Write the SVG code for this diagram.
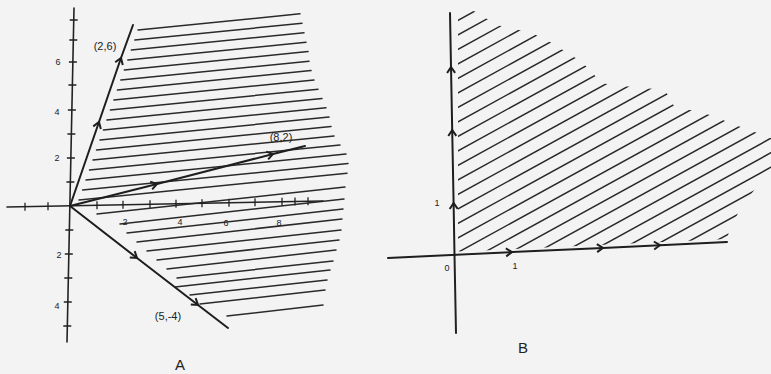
<svg xmlns="http://www.w3.org/2000/svg" width="771" height="374" viewBox="0 0 771 374">
<style>
.ax{fill:none;stroke:#222;stroke-width:1.6;stroke-linecap:round}
.ray{fill:none;stroke:#1e1e1e;stroke-width:2;stroke-linecap:round;marker-mid:url(#ah)}
.tk{fill:none;stroke:#222;stroke-width:1.3}
.hat{fill:none;stroke:#2a2a2a;stroke-width:1.5;stroke-linecap:round}
.t{font-family:"Liberation Sans",Arial,sans-serif;fill:#222}
.sm{font-size:9px}
.lb{font-size:11px}
.big{font-size:15px}
</style>
<defs>
<marker id="ah" viewBox="-8 -6 10 12" markerWidth="10" markerHeight="12" refX="0" refY="0" orient="auto" markerUnits="userSpaceOnUse">
<path d="M-6,-4 L0,0 L-6,4" fill="none" stroke="#1e1e1e" stroke-width="2"/>
</marker>
<clipPath id="clipB">
<polygon points="458,5 476,12 497,25 532,33 550,42 582,62 602,83 612,85 665,90 674,106 710,115 738,126 771,138 771,168 742,206 730,228 727,239 460,251.5 458,251"/>
</clipPath>
</defs>
<rect width="771" height="374" fill="#f3f3f3"/>

<g id="panelA">
<g id="hatchA" class="hat">
<path d="M138 30L300 13.8M134.8 40L302 23.3M131.3 50L304 32.7M127.8 60L306 42.2M124.3 70L308 51.6M120.8 80L309 61.2M117.4 90L311 70.6M113.9 100L314 80M110.4 110L318 89.2M106.9 120L322 98.5M103.4 130L326 107.7M100 140L329 117.1M96.5 150L331 126.5M93 160L334 135.9M89.5 170L340 145M86 180L346 154M82.6 190L348 163.5M79 200L347 173.2"/>
<path d="M97 214L345 187M120 224L344 199M127 233L343 209M137 242L342 219M147 251L341 230M157 260L339 240M167 269L336 250M177 278L333 261M175 287L330 270M190 295L327 280M200 304L325 290M227 316L323 305"/>
</g>
<g id="axesA">
<path class="ax" d="M74 8L67 342"/>
<path class="ax" d="M7 207L323 201"/>
<path class="tk" d="M69.7 20h8M69.3 40h8M68.9 62h8M68.4 85h8M67.9 110h8M67.4 134h8M66.9 158h8M66.4 182h8M65.3 230h8M64.8 254h8M64.3 278h8M63.8 302h8M63.3 326h8"/>
<path class="tk" d="M25 202.7v8M48 202.2v8M97 201.3v8M123 200.8v8M150 200.3v8M176 199.8v8M202 199.3v8M229 198.8v8M255 198.3v8M282 197.8v8M295 197.5v8M308 197.3v8"/>
<text class="t sm" x="58" y="65" text-anchor="middle">6</text>
<text class="t sm" x="57" y="115" text-anchor="middle">4</text>
<text class="t sm" x="57" y="161" text-anchor="middle">2</text>
<text class="t sm" x="59" y="258" text-anchor="middle">2</text>
<text class="t sm" x="57" y="309" text-anchor="middle">4</text>
<text class="t sm" x="125" y="225" text-anchor="middle">2</text>
<text class="t sm" x="180" y="225" text-anchor="middle">4</text>
<text class="t sm" x="226" y="226" text-anchor="middle">6</text>
<text class="t sm" x="279" y="226" text-anchor="middle">8</text>
</g>
<g id="rayA1">
<path class="ray" d="M70 206L99 122L121 58L133 25"/>
<text class="t lb" x="105" y="50" text-anchor="middle">(2,6)</text>
</g>
<g id="rayA2">
<path class="ray" d="M70 206L157 184L273 154L305 146"/>
<text class="t lb" x="281" y="141" text-anchor="middle">(8,2)</text>
</g>
<g id="rayA3">
<path class="ray" d="M70 206L137 258L198 305L228 328"/>
<text class="t lb" x="168" y="320" text-anchor="middle">(5,-4)</text>
</g>
<text class="t big" x="180" y="370" text-anchor="middle">A</text>
</g>

<g id="panelB">
<g id="hatchB" class="hat" clip-path="url(#clipB)">
<path d="M455 22L775 -154M455 36.5L775 -139.5M455 51L775 -125M455 65.5L775 -110.5M455 80L775 -96M455 94.5L775 -81.5M455 109L775 -67M455 123.5L775 -52.5M455 138L775 -38M455 152.5L775 -23.5M455 167L775 -9M455 181.5L775 5.5M455 196L775 20M455 210.5L775 34.5M455 225L775 49M455 239.5L775 63.5M455 254L775 78M455 268.5L775 92.5M455 283L775 107M455 297.5L775 121.5M455 312L775 136M455 326.5L775 150.5M455 341L775 165M455 355.5L775 179.5M455 370L775 194M455 384.5L775 208.5M455 399L775 223"/>
</g>
<g id="axesB">
<path class="ax" d="M456 333L454.5 255" style="stroke-width:2"/>
<path class="ray" d="M454.5 255L453.6 203L452.2 130L451 67L450 13"/>
<path class="ray" d="M388 258L512 252.1L603 247.9L660 245.2L727 242"/>
<text class="t sm" x="437" y="206" text-anchor="middle">1</text>
<text class="t sm" x="447" y="271" text-anchor="middle">0</text>
<text class="t sm" x="515" y="269" text-anchor="middle">1</text>
</g>
<text class="t big" x="523" y="353" text-anchor="middle">B</text>
</g>
</svg>
